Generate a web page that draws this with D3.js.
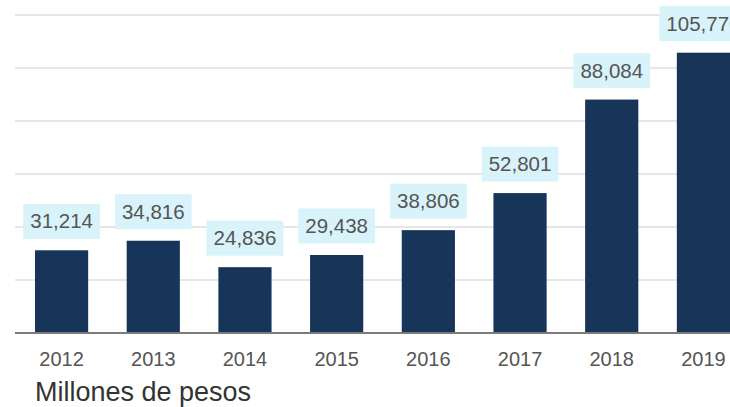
<html>
<head>
<script src="https://d3js.org/d3.v7.min.js"></script>
<style>
body { margin: 0; background: #fff; }
svg { font-family: "Liberation Sans", Arial, sans-serif; display: block; }
</style>
</head>
<body>
<div id="root"></div>
<script>
// datos
var anios = ["2012", "2013", "2014", "2015", "2016", "2017", "2018", "2019"];
var valores = [31214, 34816, 24836, 29438, 38806, 52801, 88084, 105776];
var gridTicks = [0, 20000, 40000, 60000, 80000, 100000, 120000];

var width = 730, height = 407;
var margenIzq = 15, base = 333, arriba = 15;

var svg = d3.select("#root").append("svg")
  .attr("width", width)
  .attr("height", height);

var x = d3.scaleBand()
  .domain(anios)
  .range([margenIzq, 750])
  .paddingInner(0.42)
  .paddingOuter(0.218);

var y = d3.scaleLinear()
  .domain([0, 120000])
  .range([base, arriba]);

/* lineas guia */
svg.append("g")
  .selectAll("line")
  .data(gridTicks.slice(1))
  .enter().append("line")
  .attr("x1", margenIzq)
  .attr("x2", width)
  .attr("y1", d => y(d))
  .attr("y2", d => y(d))
  .attr("stroke", "#dedede")
  .attr("stroke-width", 1.5);

/* barras */
svg.append("g")
  .selectAll("rect")
  .data(valores)
  .enter().append("rect")
  .attr("x", (d, i) => x(anios[i]))
  .attr("y", d => y(d))
  .attr("width", x.bandwidth())
  .attr("height", d => base - y(d))
  .attr("fill", "#163559");

/* linea base */
svg.append("line")
  .attr("x1", margenIzq)
  .attr("x2", width)
  .attr("y1", base)
  .attr("y2", base)
  .attr("stroke", "#7a7a7a")
  .attr("stroke-width", 2);

/* etiquetas de valor */
var fmt = d3.format(",");
var etiquetas = svg.append("g")
  .selectAll("g")
  .data(valores)
  .enter().append("g")
  .attr("transform", (d, i) => `translate(${x(anios[i]) + x.bandwidth() / 2}, ${y(d) - 29})`);

etiquetas.append("text")
  .attr("text-anchor", "middle")
  .attr("dy", "0.35em")
  .attr("font-size", "20.5px")
  .attr("fill", "#555")
  .text(d => fmt(d))
  .each(function() {
    var b = this.getBBox();
    d3.select(this.parentNode).insert("rect", "text")
      .attr("x", b.x - 7)
      .attr("y", -17.5)
      .attr("width", b.width + 14)
      .attr("height", 35)
      .attr("fill", "#d8f3fa");
  });

/* eje x */
var xAxis = d3.axisBottom(x).tickSize(0).tickPadding(0);
var gx = svg.append("g")
  .attr("transform", `translate(0, ${base})`)
  .call(xAxis);
gx.select(".domain").remove();
gx.selectAll("text")
  .attr("dy", "0")
  .attr("y", 33)
  .attr("font-size", "20px")
  .attr("font-family", "Liberation Sans, Arial, sans-serif")
  .attr("fill", "#555");

svg.append("text")
  .attr("x", 35)
  .attr("y", 401)
  .attr("font-size", "27px")
  .attr("fill", "#333")
  .text("Millones de pesos");
</script>
</body>
</html>
